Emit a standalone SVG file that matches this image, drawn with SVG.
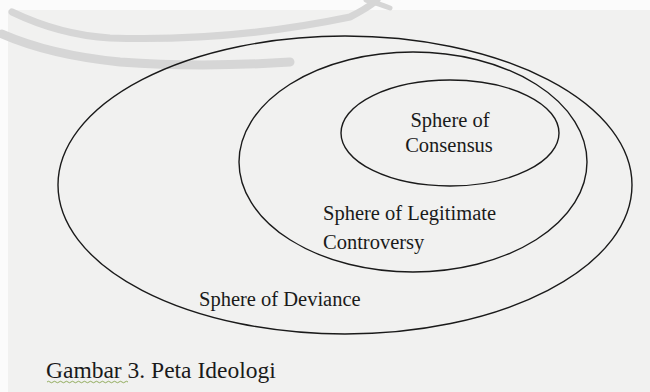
<svg xmlns="http://www.w3.org/2000/svg" width="650" height="392" viewBox="0 0 650 392">
<style>
.sph{fill:none;stroke:#1a1a1a;stroke-width:1.4}
.lbl{font-family:"Liberation Serif","Times New Roman",serif;font-size:20.5px;fill:#1a1a1a}
.cap{font-family:"Liberation Serif","Times New Roman",serif;font-size:23.5px;fill:#1a1a1a}
.wm{fill:none;stroke:#d6d6d6;stroke-linecap:round}
</style>
<rect x="0" y="0" width="650" height="392" fill="#f1f1f0"/>
<rect x="0" y="0" width="650" height="10" fill="#fbfbfb"/>
<rect x="0" y="0" width="8" height="392" fill="#fbfbfb"/>
<g id="watermark">
<path class="wm" stroke-width="7" d="M12,12 Q60,35 110,38 Q230,42 350,17 Q368,8 377,0"/>
<path class="wm" stroke-width="9" d="M2,34 Q50,55 120,62 Q200,68 290,62"/>
<path class="wm" stroke-width="5" d="M366,0 Q380,4 390,8"/>
</g>
<g id="deviance">
<ellipse class="sph" cx="345" cy="185" rx="287" ry="149"/>
<text class="lbl" x="199" y="306" font-size="20.5">Sphere of Deviance</text>
</g>
<g id="controversy">
<ellipse class="sph" cx="413" cy="162" rx="174" ry="110"/>
<text class="lbl" x="323" y="220">Sphere of Legitimate</text>
<text class="lbl" x="323" y="249">Controversy</text>
</g>
<g id="consensus">
<ellipse class="sph" cx="450" cy="133" rx="109" ry="53"/>
<text class="lbl" x="450" y="127" text-anchor="middle">Sphere of</text>
<text class="lbl" x="449" y="152" text-anchor="middle">Consensus</text>
</g>
<g id="connectors"></g>
<g id="caption">
<text class="cap" x="46" y="378">Gambar 3. Peta Ideologi</text>
<path d="M47,382 q1.5,-1.5 3,0 t3,0 t3,0 t3,0 t3,0 t3,0 t3,0 t3,0 t3,0 t3,0 t3,0 t3,0 t3,0 t3,0 t3,0 t3,0 t3,0 t3,0 t3,0 t3,0 t3,0 t3,0 t3,0 t3,0 t3,0 t3,0 t3,0" fill="none" stroke="#7a9a3a" stroke-width="0.8"/>
</g>
</svg>
